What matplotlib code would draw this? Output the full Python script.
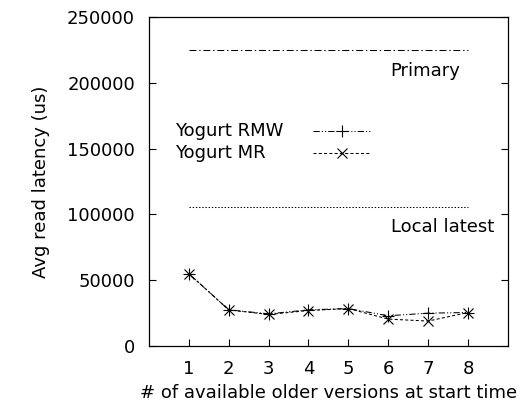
import matplotlib
matplotlib.use("Agg")
import matplotlib.pyplot as plt

plt.rcParams["font.family"] = ["DejaVu Sans"]
plt.rcParams["font.size"] = 13
plt.rcParams["lines.scale_dashes"] = False

versions = [1, 2, 3, 4, 5, 6, 7, 8]
yogurt_rmw = [55000, 27500, 24500, 27500, 28500, 23000, 25000, 25500]
yogurt_mr = [55000, 27500, 24000, 27000, 28500, 20500, 19000, 25500]
primary = 225000
local_latest = 106000

series = [
    ("Yogurt RMW", yogurt_rmw, [4.5, 1.5, 0.8, 1.5, 0.8, 1.5], "+", 9),
    ("Yogurt MR", yogurt_mr, [2.2, 1.6], "x", 7),
]

fig = plt.figure(figsize=(5.27, 4.12), dpi=100)
ax = fig.add_axes([0.2827, 0.160, 0.681, 0.799])

ax.plot([versions[0], versions[-1]], [primary, primary], color="black",
        linewidth=0.75, dashes=[5, 2, 1, 2])
ax.plot([versions[0], versions[-1]], [local_latest, local_latest], color="black",
        linewidth=0.75, dashes=[1, 1.3])

# gnuplot-style key: label on the left, sample on the right
key_y = [0.653, 0.587]
for (label, vals, dash, mk, ms), ky in zip(series, key_y):
    ax.plot(versions, vals, color="black", linewidth=0.75, dashes=dash,
            marker=mk, markersize=ms, markeredgewidth=0.8)
    ax.text(0.072, ky, label, transform=ax.transAxes, ha="left", va="center")
    ax.plot([0.457, 0.618], [ky, ky], transform=ax.transAxes, color="black",
            linewidth=0.75, dashes=dash)
    ax.plot([0.537], [ky], transform=ax.transAxes, color="black",
            marker=mk, markersize=ms, markeredgewidth=0.8)

ax.text(7.8, 216000, "Primary", ha="right", va="top")
ax.text(8.65, 97500, "Local latest", ha="right", va="top")

ax.set_xlim(0, 9)
ax.set_ylim(0, 250000)
ax.set_xticks(versions)
ax.set_yticks([0, 50000, 100000, 150000, 200000, 250000])
ax.tick_params(direction="in", length=5, width=0.8, right=True, top=False,
               labelsize=13, pad=10)
for s in ax.spines.values():
    s.set_linewidth(0.9)

ax.set_xlabel("# of available older versions at start time", labelpad=4)
ax.set_ylabel("Avg read latency (us)", labelpad=12)

fig.savefig("out.png", dpi=100)
